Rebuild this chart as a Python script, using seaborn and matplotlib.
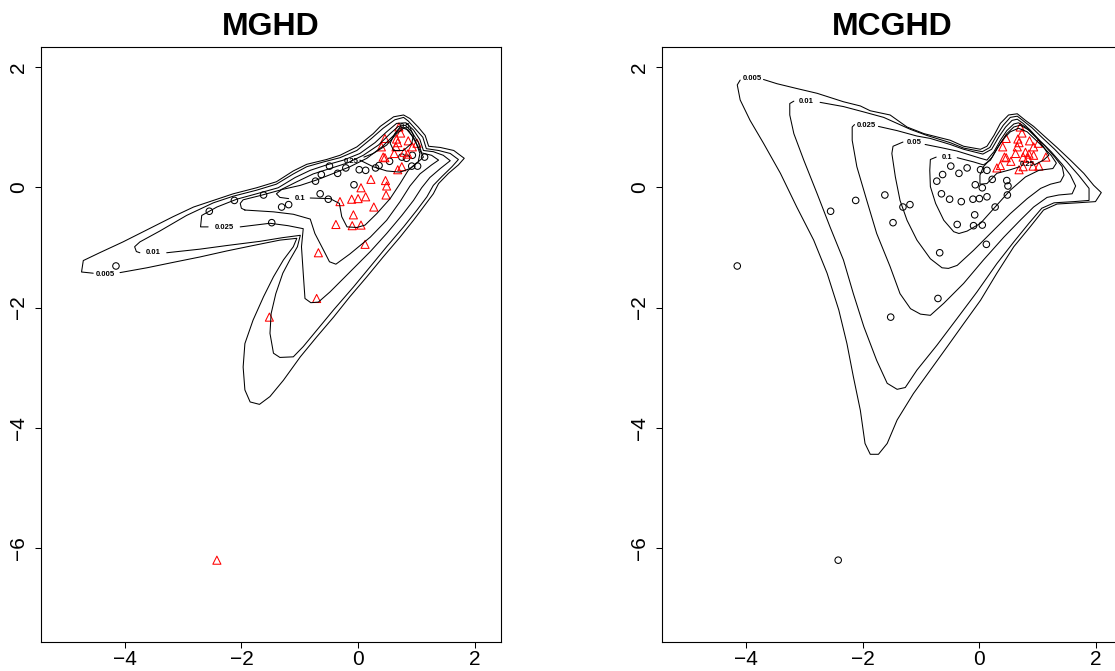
import matplotlib
matplotlib.use("Agg")
import matplotlib.pyplot as plt
import seaborn as sns
import pandas as pd

sns.set_theme(style="white")
plt.rcParams['font.family'] = ['Liberation Sans', 'DejaVu Sans']
plt.rcParams['text.color'] = 'black'

# ---------------- observations ----------------
obs_x = [-4.15, -2.55, -2.12, -1.62, -1.48, -1.31, -1.19, -0.73, -0.63, -0.49, -0.35, -0.65, -0.51,
         -0.21, -0.07, 0.02, 0.13, 0.30, 0.36, 0.54, 0.75, 0.83, 0.93, 1.14, 0.92, 1.02,
         0.70, 0.73, 0.46, 0.66, 0.68, 0.65, 0.86, 1.01, 0.93, 0.40, 0.62, 0.79, 0.85, 0.43, 0.46, 0.68, 0.75,
         0.22, 0.47, 0.49, 0.05, 0.48, 0.13, -0.11, 0.00, -0.31, 0.27, -0.08, -0.38, -0.10, 0.05, 0.12,
         -0.68, -0.71, -1.52, -2.42]
obs_y = [-1.31, -0.40, -0.22, -0.13, -0.59, -0.33, -0.29, 0.10, 0.21, 0.35, 0.23, -0.11, -0.20,
         0.32, 0.04, 0.29, 0.28, 0.32, 0.36, 0.43, 0.50, 0.48, 0.53, 0.50, 0.35, 0.35,
         1.00, 0.90, 0.81, 0.80, 0.74, 0.67, 0.77, 0.73, 0.67, 0.67, 0.56, 0.58, 0.55, 0.50, 0.49, 0.29, 0.34,
         0.13, 0.11, 0.02, -0.01, -0.13, -0.16, -0.20, -0.19, -0.24, -0.33, -0.46, -0.62, -0.64, -0.63, -0.95,
         -1.09, -1.85, -2.16, -6.20]
# cluster memberships (1 = black circle, 2 = red triangle)
mghd_group = [1] * 26 + [2] * 36
mcghd_group = [1] * 17 + [2] * 26 + [1] * 19

# ---------------- contour levels / labels ----------------
levels = ["0.005", "0.01", "0.025", "0.05", "0.1", "0.25", "0.5"]

mghd_contours = {
    "0.005": [(-4.08, -1.42), (-3.62, -1.34), (-3.17, -1.25), (-2.71, -1.16), (-2.25, -1.06), (-1.80, -0.97),
              (-1.34, -0.88), (-1.05, -0.85), (-1.11, -0.99), (-1.28, -1.21), (-1.45, -1.49), (-1.62, -1.82),
              (-1.80, -2.21), (-1.94, -2.60), (-1.97, -2.99), (-1.94, -3.37),
              (-1.85, -3.57), (-1.69, -3.61), (-1.51, -3.48), (-1.28, -3.21), (-0.99, -2.82), (-0.71, -2.49),
              (-0.42, -2.16), (-0.14, -1.82), (0.15, -1.49), (0.43, -1.16), (0.72, -0.83), (0.95, -0.55),
              (1.12, -0.33), (1.29, -0.11), (1.38, 0.06), (1.55, 0.23), (1.72, 0.37), (1.82, 0.48), (1.64, 0.61),
              (1.41, 0.66), (1.21, 0.68), (1.15, 0.86), (1.03, 1.00), (0.89, 1.14), (0.78, 1.20), (0.61, 1.17),
              (0.38, 1.01), (0.26, 0.89), (-0.02, 0.67), (-0.31, 0.53), (-0.54, 0.46), (-0.88, 0.38),
              (-1.11, 0.27), (-1.40, 0.09), (-1.74, -0.01), (-2.14, -0.11), (-2.48, -0.22), (-2.82, -0.33),
              (-3.17, -0.49), (-3.62, -0.71), (-4.03, -0.91), (-4.43, -1.09), (-4.71, -1.22), (-4.74, -1.41),
              (-4.54, -1.43)],
    "0.01": [(-3.28, -1.09), (-2.71, -1.03), (-2.25, -0.97), (-1.68, -0.90), (-1.30, -0.84), (-0.99, -0.80),
             (-1.04, -0.99), (-1.17, -1.21), (-1.29, -1.43), (-1.41, -1.77), (-1.49, -2.10), (-1.51, -2.43),
             (-1.45, -2.76), (-1.34, -2.83), (-1.11, -2.82),
             (-0.94, -2.65), (-0.71, -2.38), (-0.42, -2.04), (-0.08, -1.66), (0.21, -1.32), (0.49, -0.99),
             (0.78, -0.66), (1.01, -0.38), (1.18, -0.16), (1.29, 0.03), (1.44, 0.18), (1.61, 0.34), (1.72, 0.46),
             (1.58, 0.56), (1.38, 0.61), (1.17, 0.64), (1.11, 0.83), (0.99, 0.96), (0.86, 1.10), (0.78, 1.16),
             (0.63, 1.12), (0.43, 0.98), (0.23, 0.81), (-0.02, 0.61), (-0.31, 0.49), (-0.59, 0.42), (-0.88, 0.34),
             (-1.11, 0.22), (-1.40, 0.05), (-1.74, -0.05), (-2.14, -0.15), (-2.48, -0.26), (-2.94, -0.47),
             (-3.40, -0.73), (-3.74, -0.91), (-3.83, -0.99), (-3.80, -1.07), (-3.74, -1.09)],
    "0.025": [(-2.02, -0.66), (-1.51, -0.60), (-1.20, -0.64), (-0.94, -0.69), (-0.97, -0.99), (-0.94, -1.43),
              (-0.91, -1.85),
              (-0.81, -1.92), (-0.68, -1.91), (-0.48, -1.74), (-0.14, -1.41), (0.21, -1.07), (0.49, -0.77),
              (0.75, -0.47), (0.95, -0.22), (1.09, -0.01), (1.23, 0.16), (1.41, 0.31), (1.58, 0.44), (1.46, 0.53),
              (1.29, 0.59), (1.12, 0.61), (1.06, 0.79), (0.95, 0.95), (0.82, 1.07), (0.66, 1.06), (0.49, 0.92),
              (0.29, 0.74), (0.03, 0.56), (-0.25, 0.45), (-0.54, 0.37), (-0.82, 0.28), (-1.08, 0.16),
              (-1.37, -0.01), (-1.74, -0.11), (-2.08, -0.20), (-2.42, -0.33), (-2.68, -0.47), (-2.70, -0.66),
              (-2.57, -0.66)],
    "0.05": [(-1.94, -0.38), (-1.45, -0.41), (-1.11, -0.45), (-0.82, -0.53), (-0.74, -0.77), (-0.59, -1.05),
             (-0.49, -1.24), (-0.38, -1.28), (-0.14, -1.11), (0.21, -0.83), (0.49, -0.55), (0.72, -0.24),
             (0.89, 0.02), (1.06, 0.22), (1.26, 0.37), (1.38, 0.45), (1.26, 0.53), (1.09, 0.57), (1.03, 0.75),
             (0.92, 0.92), (0.81, 1.03), (0.69, 1.01), (0.55, 0.89), (0.35, 0.70), (0.09, 0.53), (-0.19, 0.40),
             (-0.48, 0.31), (-0.77, 0.22), (-1.05, 0.09), (-1.34, -0.05), (-1.68, -0.14), (-1.97, -0.21),
             (-2.02, -0.27), (-2.00, -0.35), (-1.94, -0.38)],
    "0.1": [(-0.82, -0.18), (-0.48, -0.19), (-0.32, -0.27), (-0.28, -0.49), (-0.19, -0.66), (-0.02, -0.67),
            (0.12, -0.63), (0.32, -0.44), (0.55, -0.19), (0.72, 0.06), (0.86, 0.28), (1.03, 0.42), (1.12, 0.50),
            (1.03, 0.67), (0.92, 0.86), (0.81, 0.99), (0.72, 0.98), (0.61, 0.86), (0.41, 0.67), (0.15, 0.48),
            (-0.14, 0.34), (-0.42, 0.23), (-0.71, 0.12), (-0.99, 0.03), (-1.31, -0.04), (-1.40, -0.11),
            (-1.34, -0.17), (-1.19, -0.19)],
    "0.25": [(0.03, 0.45), (0.26, 0.34), (0.49, 0.27), (0.72, 0.25), (0.89, 0.31), (1.03, 0.42), (1.06, 0.56),
             (0.98, 0.78), (0.86, 0.95), (0.78, 0.98), (0.66, 0.89), (0.49, 0.70), (0.26, 0.56), (0.10, 0.50)],
    "0.5": [(0.72, 1.00), (0.63, 0.89), (0.55, 0.73), (0.61, 0.61), (0.78, 0.61), (0.92, 0.73), (0.95, 0.86),
            (0.89, 0.99)],
}
mghd_label_pos = {"0.005": (-4.33, -1.45), "0.01": (-3.51, -1.09), "0.025": (-2.29, -0.67),
                  "0.1": (-0.99, -0.19), "0.25": (-0.12, 0.43), "0.5": (0.81, 1.01)}

mcghd_contours = {
    "0.005": [(-3.70, 1.79), (-3.47, 1.72), (-3.13, 1.64), (-2.78, 1.56), (-2.33, 1.42), (-2.04, 1.35),
              (-1.87, 1.27), (-1.53, 1.20), (-1.24, 1.00), (-0.95, 0.89), (-0.50, 0.78), (-0.27, 0.68),
              (0.02, 0.63), (0.13, 0.68), (0.25, 0.86), (0.36, 1.06), (0.50, 1.20), (0.65, 1.22), (0.79, 1.11),
              (0.93, 1.01), (1.10, 0.86), (1.33, 0.66), (1.56, 0.45), (1.79, 0.23), (1.96, 0.03), (2.09, -0.09),
              (1.99, -0.24), (1.68, -0.26), (1.33, -0.28), (1.10, -0.38), (0.87, -0.66), (0.59, -0.99),
              (0.30, -1.43), (0.02, -1.88), (-0.27, -2.27), (-0.55, -2.65), (-0.84, -3.04), (-1.13, -3.43),
              (-1.41, -3.87), (-1.58, -4.26), (-1.73, -4.44), (-1.87, -4.44), (-1.96, -4.26), (-2.04, -3.71),
              (-2.16, -3.15), (-2.27, -2.60), (-2.41, -2.04), (-2.61, -1.43), (-2.84, -0.88), (-3.13, -0.33),
              (-3.41, 0.23), (-3.70, 0.73), (-3.93, 1.11), (-4.10, 1.45), (-4.15, 1.70), (-4.10, 1.78)],
    "0.01": [(-2.73, 1.41), (-2.33, 1.34), (-1.98, 1.25), (-1.64, 1.16), (-1.41, 1.06), (-1.18, 0.96),
             (-0.90, 0.86), (-0.50, 0.74), (-0.27, 0.65), (0.05, 0.59), (0.18, 0.66), (0.29, 0.85), (0.41, 1.03),
             (0.53, 1.16), (0.65, 1.18), (0.77, 1.09), (0.90, 0.99), (1.07, 0.83), (1.29, 0.63), (1.50, 0.42),
             (1.70, 0.20), (1.88, -0.02), (1.88, -0.22), (1.62, -0.24), (1.28, -0.26), (1.07, -0.35),
             (0.85, -0.60), (0.59, -0.91), (0.30, -1.27), (-0.04, -1.74), (-0.38, -2.18), (-0.73, -2.63),
             (-1.07, -3.04), (-1.27, -3.33), (-1.41, -3.36), (-1.58, -3.26), (-1.76, -2.88), (-1.98, -2.32),
             (-2.16, -1.77), (-2.33, -1.21), (-2.56, -0.66), (-2.78, -0.11), (-3.01, 0.45), (-3.18, 0.89),
             (-3.25, 1.20), (-3.25, 1.39), (-3.18, 1.43)],
    "0.025": [(-1.73, 1.01), (-1.41, 0.94), (-1.07, 0.85), (-0.84, 0.81), (-0.50, 0.71), (-0.27, 0.63),
              (0.06, 0.55), (0.21, 0.63), (0.33, 0.83), (0.45, 1.00), (0.56, 1.11), (0.65, 1.13), (0.75, 1.06),
              (0.87, 0.95), (1.03, 0.78), (1.23, 0.59), (1.42, 0.38), (1.56, 0.20), (1.65, 0.02), (1.59, -0.11),
              (1.36, -0.13), (1.16, -0.17), (0.93, -0.33), (0.70, -0.55), (0.42, -0.83), (0.07, -1.21),
              (-0.27, -1.60), (-0.61, -1.93), (-0.84, -2.13), (-1.01, -2.11), (-1.18, -2.02), (-1.36, -1.77),
              (-1.53, -1.32), (-1.76, -0.77), (-1.93, -0.22), (-2.10, 0.34), (-2.18, 0.78), (-2.18, 1.00),
              (-2.14, 1.04)],
    "0.05": [(-0.93, 0.71), (-0.67, 0.66), (-0.38, 0.60), (0.02, 0.48), (0.13, 0.45), (0.25, 0.59), (0.36, 0.78),
             (0.47, 0.94), (0.59, 1.05), (0.67, 1.07), (0.79, 1.00), (0.94, 0.86), (1.13, 0.68), (1.30, 0.49),
             (1.42, 0.34), (1.45, 0.20), (1.39, 0.09), (1.22, 0.05), (1.05, -0.02), (0.82, -0.19), (0.53, -0.44),
             (0.25, -0.71), (-0.10, -1.05), (-0.38, -1.30), (-0.53, -1.35), (-0.64, -1.34), (-0.84, -1.19),
             (-1.07, -0.88), (-1.24, -0.55), (-1.36, -0.22), (-1.44, 0.17), (-1.50, 0.56), (-1.48, 0.68),
             (-1.31, 0.75)],
    "0.1": [(-0.38, 0.49), (-0.10, 0.42), (0.07, 0.37), (0.19, 0.45), (0.30, 0.64), (0.42, 0.81), (0.53, 0.92),
            (0.67, 0.98), (0.82, 0.92), (0.96, 0.79), (1.10, 0.66), (1.23, 0.53), (1.32, 0.40), (1.26, 0.31),
            (1.02, 0.28), (0.79, 0.17), (0.53, -0.05), (0.27, -0.33), (0.02, -0.60), (-0.21, -0.73),
            (-0.35, -0.77), (-0.44, -0.74), (-0.61, -0.55), (-0.75, -0.27), (-0.84, 0.01), (-0.85, 0.28),
            (-0.84, 0.46), (-0.74, 0.50)],
    "0.25": [(0.94, 0.37), (1.10, 0.45), (1.19, 0.53), (1.10, 0.67), (0.99, 0.81), (0.85, 0.95), (0.70, 1.03),
             (0.59, 1.00), (0.47, 0.89), (0.36, 0.73), (0.22, 0.50), (0.07, 0.34), (0.01, 0.20), (0.01, 0.05),
             (0.13, 0.06), (0.30, 0.23), (0.53, 0.29), (0.69, 0.34)],
}
mcghd_label_pos = {"0.005": (-3.90, 1.80), "0.01": (-2.96, 1.42), "0.025": (-1.94, 1.03),
                   "0.05": (-1.11, 0.74), "0.1": (-0.56, 0.50), "0.25": (0.82, 0.37)}

xlim = (-5.44, 2.45)
ylim = (-7.56, 2.33)
xticks = [-4, -2, 0, 2]
yticks = [-6, -4, -2, 0, 2]

W, H = 1115, 671
fig = plt.figure(figsize=(W / 100, H / 100), dpi=100)
ax_l = fig.add_axes([40.7 / W, (H - 642) / H, 460.3 / W, 595 / H])
ax_r = fig.add_axes([662 / W, (H - 642) / H, 460.3 / W, 595 / H])


def draw_panel(ax, title, contours, label_pos, groups):
    for lev in levels:
        if lev not in contours:
            continue
        pts = contours[lev]
        df = pd.DataFrame(pts, columns=["x", "y"])
        sns.lineplot(data=df, x="x", y="y", sort=False, estimator=None, ax=ax,
                     color="black", linewidth=0.75)
    for lev, (lx, ly) in label_pos.items():
        ax.text(lx, ly, lev, fontsize=5.5, fontweight="bold", ha="center", va="center", color="black")
    d = pd.DataFrame({"x": obs_x, "y": obs_y, "g": groups})
    d1 = d[d.g == 1]
    d2 = d[d.g == 2]
    sns.scatterplot(data=d1, x="x", y="y", ax=ax, marker="o", s=22, facecolors="none",
                    edgecolor="black", linewidth=0.75)
    sns.scatterplot(data=d2, x="x", y="y", ax=ax, marker="^", s=34, facecolors="none",
                    edgecolor="red", linewidth=0.75)
    ax.set_xlim(*xlim)
    ax.set_ylim(*ylim)
    ax.set_xticks(xticks)
    ax.set_yticks(yticks)
    ax.set_xticklabels([str(t).replace("-", "\u2212") for t in xticks])
    ax.set_yticklabels([str(t).replace("-", "\u2212") for t in yticks], rotation=90, va="center")
    ax.set_xlabel("")
    ax.set_ylabel("")
    ax.tick_params(axis="both", which="both", direction="out", length=4.3, width=0.75, color="black",
                   labelsize=15, labelcolor="black")
    ax.tick_params(axis="x", pad=1.5, bottom=True)
    ax.tick_params(axis="y", pad=5, left=True)
    for sp in ax.spines.values():
        sp.set_visible(True)
        sp.set_color("black")
        sp.set_linewidth(0.8)
    ax.set_title(title, fontsize=23, fontweight="bold", pad=9, color="black")
    ax.grid(False)


draw_panel(ax_l, "MGHD", mghd_contours, mghd_label_pos, mghd_group)
draw_panel(ax_r, "MCGHD", mcghd_contours, mcghd_label_pos, mcghd_group)

fig.savefig("out.png", dpi=100, facecolor="white")
